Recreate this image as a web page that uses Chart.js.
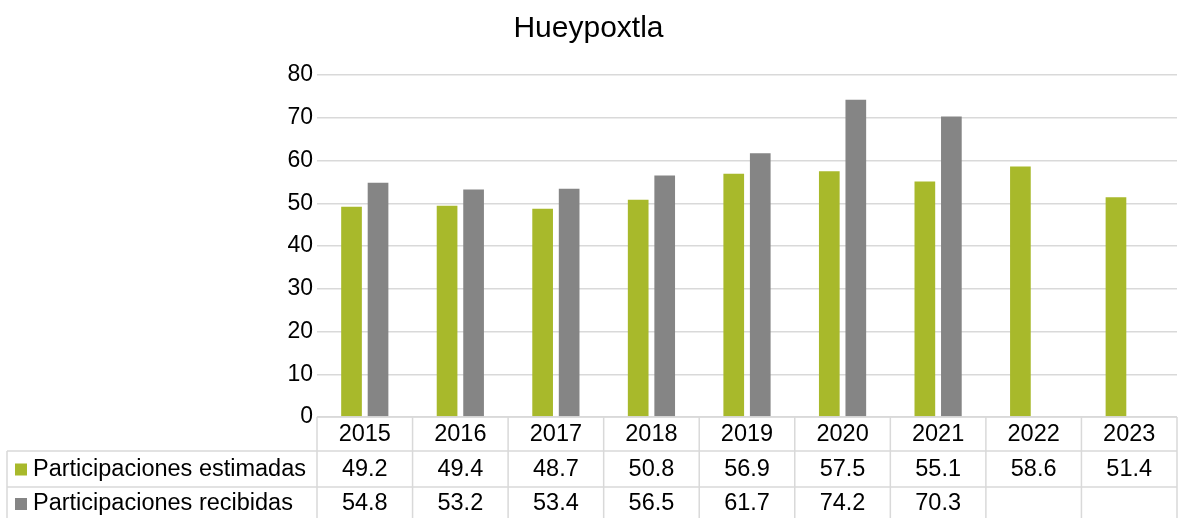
<!DOCTYPE html>
<html>
<head>
<meta charset="utf-8">
<script src="https://cdn.jsdelivr.net/npm/chart.js@4/dist/chart.umd.min.js"></script>
<style>
  html, body { margin: 0; padding: 0; background: #fff; }
  #wrap { width: 1180px; height: 518px; position: relative; }
</style>
</head>
<body>
<div id="wrap"><canvas id="c"></canvas></div>
<script>
(function () {
  "use strict";

  // ---- data ----
  var YEARS = ["2015", "2016", "2017", "2018", "2019", "2020", "2021", "2022", "2023"];
  var ESTIMADAS = [49.2, 49.4, 48.7, 50.8, 56.9, 57.5, 55.1, 58.6, 51.4];
  var RECIBIDAS = [54.8, 53.2, 53.4, 56.5, 61.7, 74.2, 70.3, null, null];
  var SERIES = ["Participaciones estimadas", "Participaciones recibidas"];
  var Y_TICKS = [0, 10, 20, 30, 40, 50, 60, 70, 80];

  var GREEN = "#A8B92B", GREY = "#858585", LINE = "#D9D9D9";
  var FONT = "'Liberation Sans', Arial, sans-serif";

  Chart.defaults.font.family = FONT;
  Chart.defaults.color = "#000";

  // data table under the plot, laid out on the x scale's columns
  var tablePlugin = {
    id: "dataTable",
    afterDraw: function (chart) {
      var ctx = chart.ctx, x = chart.scales.x, area = chart.chartArea;
      var n = YEARS.length, colW = (x.right - x.left) / n;
      var top = area.bottom, y1 = top + 34, y2 = y1 + 36, y3 = y2 + 36;
      var labelLeft = 7;
      var rows = [ESTIMADAS, RECIBIDAS], cols = [GREEN, GREY];

      ctx.save();
      ctx.strokeStyle = LINE; ctx.lineWidth = 1.5;
      ctx.beginPath();
      ctx.moveTo(x.left, top); ctx.lineTo(x.right, top);
      ctx.moveTo(labelLeft, y1); ctx.lineTo(x.right, y1);
      ctx.moveTo(labelLeft, y2); ctx.lineTo(x.right, y2);
      for (var i = 0; i <= n; i++) {
        var xi = x.left + i * colW;
        ctx.moveTo(xi, top); ctx.lineTo(xi, y3);
      }
      ctx.moveTo(labelLeft, y1); ctx.lineTo(labelLeft, y3);
      ctx.stroke();

      ctx.fillStyle = "#000";
      ctx.font = "23.5px " + FONT;
      ctx.textBaseline = "middle";
      ctx.textAlign = "center";
      YEARS.forEach(function (yr, i) {
        ctx.fillText(yr, x.getPixelForTick(i), (top + y1) / 2 + 0.5);
      });
      var mids = [(y1 + y2) / 2 + 0.5, (y2 + y3) / 2 - 1];
      rows.forEach(function (vals, r) {
        ctx.textAlign = "center";
        ctx.fillStyle = "#000";
        vals.forEach(function (v, i) {
          if (v === null) return;
          ctx.fillText(v.toFixed(1), x.getPixelForTick(i), mids[r]);
        });
        ctx.fillStyle = cols[r];
        ctx.fillRect(15, mids[r] - 6, 12, 12);
        ctx.fillStyle = "#000";
        ctx.textAlign = "left";
        ctx.fillText(SERIES[r], 33, mids[r]);
      });
      ctx.restore();
    }
  };

  new Chart(document.getElementById("c"), {
    type: "bar",
    data: {
      labels: YEARS,
      datasets: [
        { label: SERIES[0], data: ESTIMADAS, backgroundColor: GREEN },
        { label: SERIES[1], data: RECIBIDAS, backgroundColor: GREY }
      ]
    },
    options: {
      responsive: true, maintainAspectRatio: false, animation: false,
      categoryPercentage: 0.555, barPercentage: 0.78,
      layout: { padding: { left: 0, right: 3, top: 0, bottom: 101 } },
      plugins: {
        legend: { display: false },
        tooltip: { enabled: false },
        title: {
          display: true, text: "Hueypoxtla", color: "#000",
          font: { size: 30, weight: "normal" },
          padding: { top: 11, bottom: 28 }
        }
      },
      scales: {
        x: { display: false },
        y: {
          min: 0, max: 80,
          afterFit: function (s) { s.width = 317; },
          afterBuildTicks: function (s) { s.ticks = Y_TICKS.map(function (v) { return { value: v }; }); },
          border: { display: false },
          grid: { color: LINE, lineWidth: 1.5, drawTicks: false },
          ticks: { padding: 4, color: "#000", font: { size: 23 } }
        }
      }
    },
    plugins: [tablePlugin]
  });
})();
</script>
</body>
</html>
